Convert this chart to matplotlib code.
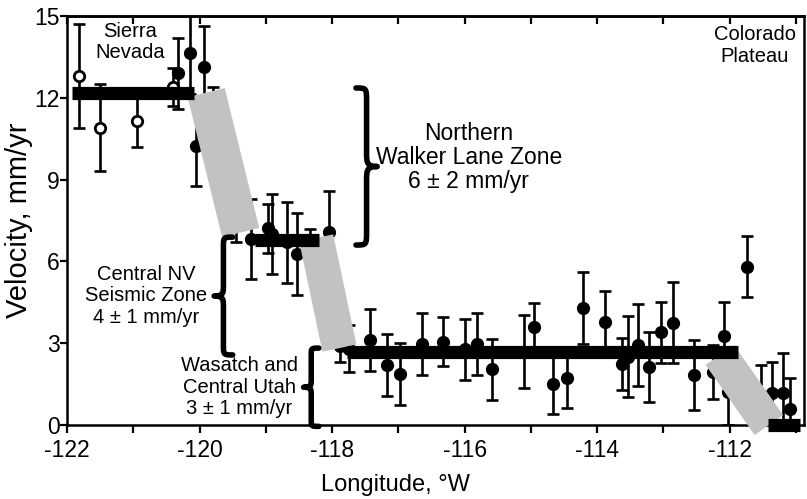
import matplotlib
matplotlib.use("Agg")
import matplotlib.pyplot as plt
from matplotlib.path import Path
from matplotlib.patches import PathPatch
import numpy as np

plt.rcParams['font.family'] = ['Liberation Sans', 'DejaVu Sans']

# ---- data ----
open_lon = [-121.82, -121.5, -120.95, -120.4]
open_vel = [12.8, 10.9, 11.15, 12.4]
open_err = [1.9, 1.6, 0.95, 0.7]

filled_lon = [-120.33, -120.15, -119.94, -120.06, -119.79, -119.45,
              -119.22, -118.96, -118.9, -118.68, -118.53, -118.34, -118.05,
              -117.88, -117.74, -117.43, -117.17, -116.97, -116.64, -116.33,
              -115.99, -115.81, -115.58, -115.1, -114.96, -114.67, -114.46,
              -114.21, -113.89, -113.63, -113.54, -113.38, -113.22, -113.04,
              -112.85, -112.54, -112.25, -112.09, -112.03, -111.74, -111.53,
              -111.36, -111.2, -111.09]
filled_vel = [12.9, 13.64, 13.13, 10.23, 11.0, 7.5,
              6.82, 7.22, 7.0, 6.7, 6.27, 6.8, 7.09,
              2.9, 2.8, 3.12, 2.2, 1.86, 2.97, 3.06,
              2.77, 2.97, 2.05, 2.69, 3.58, 1.5, 1.74,
              4.28, 3.79, 2.24, 2.5, 2.93, 2.14, 3.4,
              3.75, 1.83, 1.95, 3.28, 1.2, 5.8, 1.1,
              1.17, 1.16, 0.59]
filled_err = [1.3, 1.5, 1.5, 1.47, 1.4, 0.8,
              1.47, 0.9, 1.48, 1.48, 1.5, 0.4, 1.5,
              0.6, 0.85, 1.15, 1.14, 1.13, 1.13, 0.9,
              1.12, 1.13, 1.12, 1.35, 0.88, 1.11, 1.13,
              1.32, 1.12, 0.94, 1.48, 1.5, 1.28, 1.12,
              1.48, 1.27, 0.98, 1.24, 1.2, 1.12, 1.1,
              1.15, 1.47, 1.12]

# zone (block) velocities: start lon, end lon, velocity
zone_start = [-121.93, -119.16, -117.77, -111.42]
zone_end = [-120.09, -118.2, -111.88, -110.94]
zone_vel = [12.19, 6.8, 2.68, 0.0]

# transition ramps: start (lon, vel) -> end (lon, vel)
ramp_lon0 = [-119.90, -118.24, -112.15]
ramp_vel0 = [12.19, 6.86, 2.57]
ramp_lon1 = [-119.38, -117.89, -111.41]
ramp_vel1 = [7.06, 2.82, 0.0]

xticks = [-122, -120, -118, -116, -114, -112]
yticks = [0, 3, 6, 9, 12, 15]

# ---- figure ----
fig = plt.figure(figsize=(8.07, 4.99), dpi=100)
ax = fig.add_axes([67/807, 1-425/499, (804-67)/807, (425-16)/499])
ax.set_xlim(-122, -110.88)
ax.set_ylim(0, 15)

eb_kw = dict(fmt='none', ecolor='black', elinewidth=1.9, capsize=4.5,
             capthick=1.9, zorder=2)
ax.errorbar(filled_lon, filled_vel, yerr=filled_err, **eb_kw)
ax.errorbar(open_lon, open_vel, yerr=open_err, **eb_kw)
ax.plot(filled_lon, filled_vel, 'o', color='black', ms=8.5, zorder=2.5)
ax.plot(open_lon, open_vel, 'o', mfc='white', mec='black', mew=2.0,
        ms=7.5, zorder=2.5)

# ramps (grey bands)
ramp_w = [27.5, 25.0, 25.0]
for x0, y0, x1, y1, w in zip(ramp_lon0, ramp_vel0, ramp_lon1, ramp_vel1, ramp_w):
    ax.plot([x0, x1], [y0, y1], color='#c2c2c2', lw=w,
            solid_capstyle='butt', zorder=3, clip_on=False)

# zone bars
for x0, x1, v in zip(zone_start, zone_end, zone_vel):
    ax.plot([x0, x1], [v, v], color='black', lw=9.5,
            solid_capstyle='butt', zorder=4, clip_on=False)


def brace(ax, x_end, x_tip, y0, y1):
    """Curly brace: ends at x_end, tip at x_tip, spanning y0..y1."""
    xm = (x_end + x_tip) / 2.0
    ym = (y0 + y1) / 2.0
    h = y1 - y0
    r = 0.09 * h
    verts = [
        (x_end, y1),
        (xm, y1), (xm, y1), (xm, y1 - r),
        (xm, ym + r),
        (xm, ym + 0.3 * r), (xm, ym), (x_tip, ym),
        (xm, ym), (xm, ym - 0.3 * r), (xm, ym - r),
        (xm, y0 + r),
        (xm, y0), (xm, y0), (x_end, y0),
    ]
    codes = [Path.MOVETO,
             Path.CURVE4, Path.CURVE4, Path.CURVE4,
             Path.LINETO,
             Path.CURVE4, Path.CURVE4, Path.CURVE4,
             Path.CURVE4, Path.CURVE4, Path.CURVE4,
             Path.LINETO,
             Path.CURVE4, Path.CURVE4, Path.CURVE4]
    ax.add_patch(PathPatch(Path(verts, codes), fill=False, lw=4.0,
                           edgecolor='black', zorder=5, clip_on=False,
                           capstyle='round', joinstyle='round'))


brace(ax, -117.64, -117.32, 6.6, 12.36)
brace(ax, -119.50, -119.78, 2.57, 6.89)
brace(ax, -118.20, -118.43, -0.05, 2.82)

fs = 14.5
ax.text(-121.05, 14.04, 'Sierra\nNevada', ha='center', va='center',
        fontsize=fs, linespacing=1.15, zorder=6)
ax.text(-111.62, 13.92, 'Colorado\nPlateau', ha='center', va='center',
        fontsize=fs, linespacing=1.15, zorder=6)
ax.text(-115.94, 9.8, 'Northern\nWalker Lane Zone\n6 \u00b1 2 mm/yr',
        ha='center', va='center', fontsize=16.5, linespacing=1.05, zorder=6)
ax.text(-120.8, 4.74, 'Central NV\nSeismic Zone\n4 \u00b1 1 mm/yr',
        ha='center', va='center', fontsize=fs, linespacing=1.15, zorder=6)
ax.text(-119.4, 1.39, 'Wasatch and\nCentral Utah\n3 \u00b1 1 mm/yr',
        ha='center', va='center', fontsize=fs, linespacing=1.15, zorder=6)

ax.set_xticks(xticks)
ax.set_xticks(np.arange(-122, -110, 1), minor=True)
ax.set_xticklabels([str(t) for t in xticks])
ax.set_yticks(yticks)
ax.tick_params(axis='x', which='both', direction='out', length=6, width=1.6,
               labelsize=16.5, pad=4)
ax.tick_params(axis='y', which='both', direction='out', length=5, width=1.6,
               labelsize=16.5, pad=0)
for s in ax.spines.values():
    s.set_linewidth(1.8)

# inward ticks on the top spine
top = ax.secondary_xaxis('top')
top.set_xticks(xticks)
top.set_xticks(np.arange(-122, -110, 1), minor=True)
top.tick_params(axis='x', which='both', direction='in', length=6, width=1.6,
                labeltop=False)
top.spines['top'].set_linewidth(1.8)

ax.set_xlabel('Longitude, \u00b0W', fontsize=17, labelpad=9)
ax.xaxis.label.set_x(0.446)
ax.set_ylabel('Velocity, mm/yr', fontsize=21, labelpad=1)

fig.savefig('out.png', dpi=100)
